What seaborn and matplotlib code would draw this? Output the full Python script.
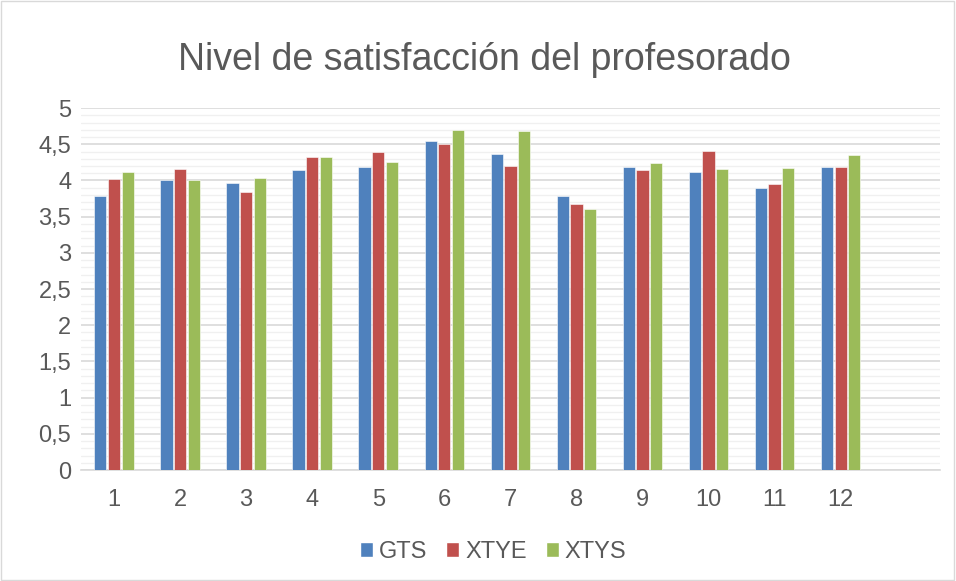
import matplotlib
matplotlib.use('Agg')
import matplotlib.pyplot as plt
from matplotlib.ticker import MultipleLocator, FuncFormatter
from matplotlib.patches import Patch, Rectangle
import pandas as pd
import seaborn as sns

categories = [str(i) for i in range(1, 13)]
gts = [3.79, 4.00, 3.97, 4.14, 4.19, 4.54, 4.37, 3.79, 4.19, 4.12, 3.90, 4.18]
xtye = [4.02, 4.16, 3.84, 4.32, 4.39, 4.50, 4.20, 3.67, 4.14, 4.41, 3.95, 4.19]
xtys = [4.12, 4.00, 4.03, 4.32, 4.26, 4.70, 4.68, 3.61, 4.24, 4.16, 4.17, 4.35]
series = ['GTS', 'XTYE', 'XTYS']
colors = ['#4F81BD', '#C0504D', '#9BBB59']

df = pd.DataFrame({'cat': categories, 'GTS': gts, 'XTYE': xtye, 'XTYS': xtys})
df = df.melt(id_vars='cat', var_name='serie', value_name='valor')

sns.set_style('white')
plt.rcParams['font.family'] = ['Liberation Sans', 'DejaVu Sans']
text_col = '#595959'

fig = plt.figure(figsize=(9.56, 5.81), dpi=100)
ax = fig.add_axes([0.0847, 0.191, 0.8983, 0.623])

sns.barplot(data=df, x='cat', y='valor', hue='serie', order=categories,
            hue_order=series, palette=colors, saturation=1, width=0.62, gap=0.1,
            legend=False, ax=ax, zorder=3)
for bar in ax.patches:
    bar.set_edgecolor('white')
    bar.set_linewidth(0.4)

ax.set_xlim(-0.5, 12.5)
ax.set_ylim(0, 5)
ax.yaxis.set_major_locator(MultipleLocator(0.5))
ax.yaxis.set_minor_locator(MultipleLocator(0.1))
ax.yaxis.set_major_formatter(FuncFormatter(lambda v, p: ('%g' % v).replace('.', ',')))
ax.grid(axis='y', which='major', color='#d9d9d9', linewidth=1.2, zorder=0)
ax.grid(axis='y', which='minor', color='#f0f0f0', linewidth=1.0, zorder=0)
ax.set_axisbelow(True)
for s in ['top', 'right', 'left']:
    ax.spines[s].set_visible(False)
ax.spines['bottom'].set_color('#d9d9d9')
ax.spines['bottom'].set_linewidth(1.2)
ax.tick_params(axis='both', which='both', length=0, labelsize=17, colors=text_col)
ax.tick_params(axis='x', pad=14)
ax.tick_params(axis='y', pad=7)
ax.set_xlabel('')
ax.set_ylabel('')

fig.text(0.507, 0.896, 'Nivel de satisfacción del profesorado', ha='center', va='center',
         fontsize=27, color=text_col)

handles = [Patch(facecolor=c, label=s) for s, c in zip(series, colors)]
fig.legend(handles=handles, loc='center', bbox_to_anchor=(0.516, 0.05), ncol=3,
           frameon=False, fontsize=17, labelcolor=text_col, handlelength=0.55,
           handleheight=0.55, handletextpad=0.25, columnspacing=0.8)

fig.patches.append(Rectangle((0.001, 0.002), 0.997, 0.996, transform=fig.transFigure,
                             fill=False, edgecolor='#d9d9d9', linewidth=1))

fig.savefig('out.png', dpi=100)
